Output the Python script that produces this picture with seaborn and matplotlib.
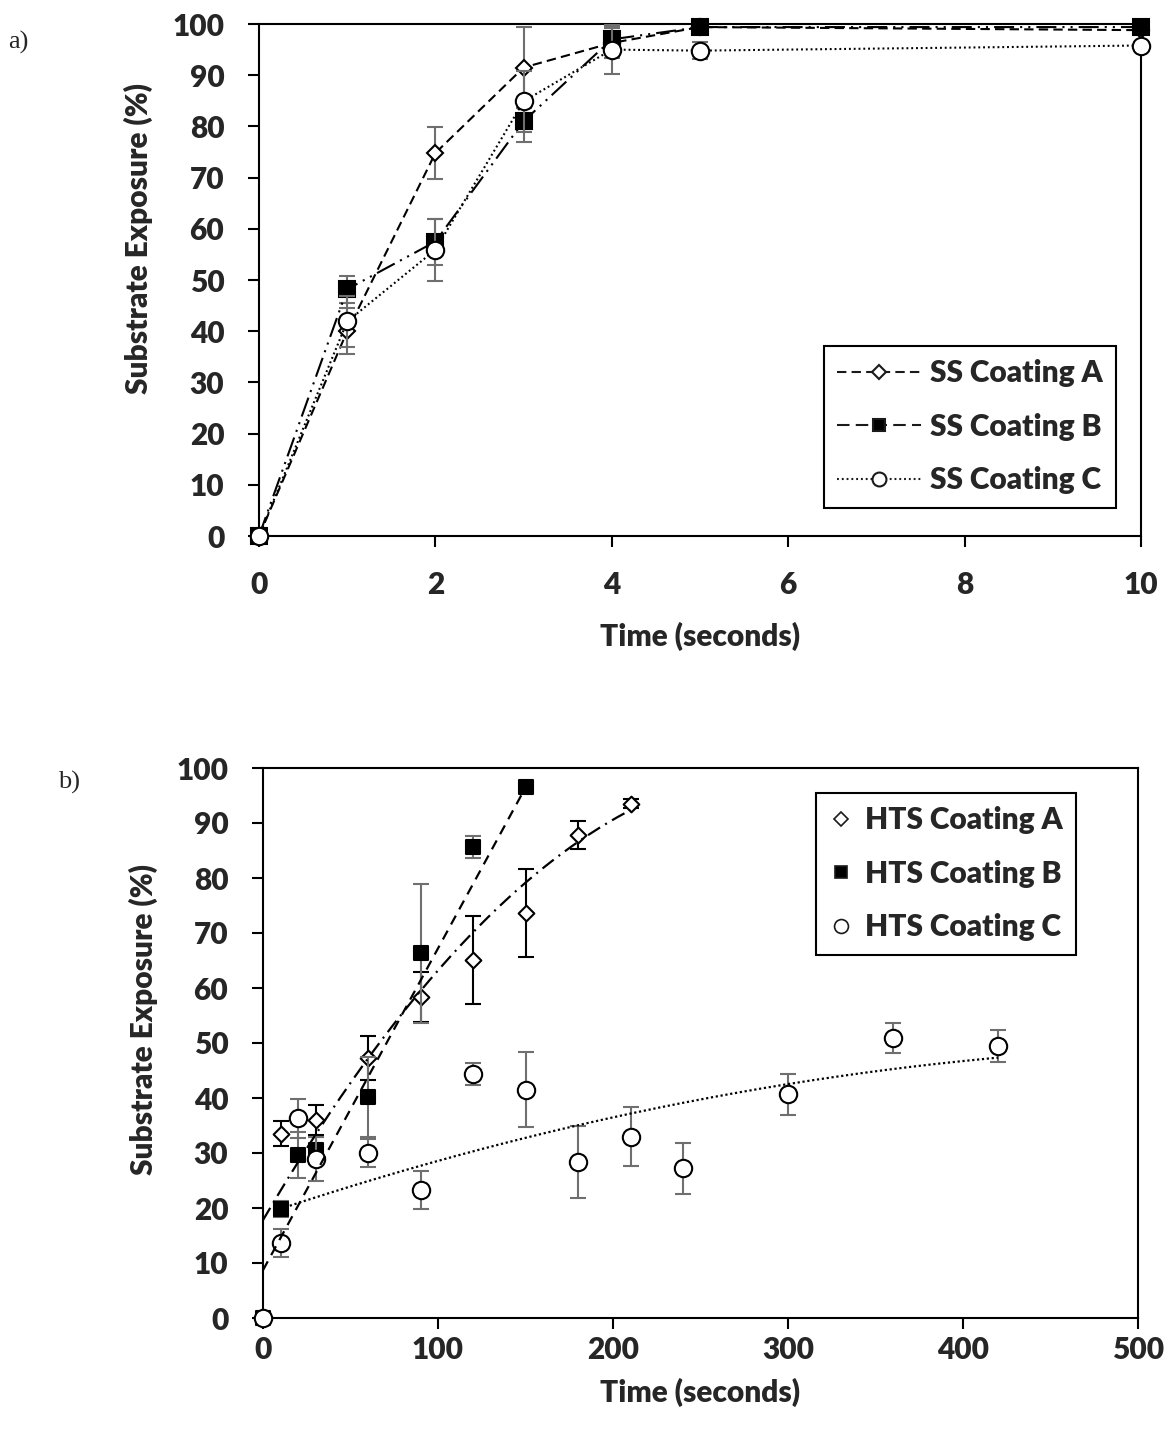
import numpy as np
import pandas as pd
import matplotlib
matplotlib.use("Agg")
import matplotlib.pyplot as plt
import seaborn as sns
from matplotlib.lines import Line2D

# ---------------- Panel a data (SS) ----------------
ss_time = [0, 1, 2, 3, 4, 5, 10]
ss_a = [0, 40.0, 74.8, 91.5, 96.3, 99.4, 98.8]
ss_a_err = [0, 4.5, 5.0, 8.0, 3.0, 1.0, 0.5]
ss_b = [0, 48.2, 57.5, 81.0, 97.0, 99.4, 99.4]
ss_b_err = [0, 2.6, 4.5, 4.0, 2.5, 1.0, 0.5]
ss_c = [0, 41.9, 55.9, 84.9, 95.0, 94.8, 95.8]
ss_c_err = [0, 5.0, 6.0, 6.0, 4.8, 1.7, 0.5]
ss_labels = ["SS Coating A", "SS Coating B", "SS Coating C"]

# ---------------- Panel b data (HTS) ----------------
hts_a_time = [0, 10, 30, 60, 90, 120, 150, 180, 210]
hts_a = [0, 33.5, 36.0, 47.2, 58.4, 65.1, 73.6, 87.8, 93.5]
hts_a_err = [0, 2.3, 2.7, 4.0, 4.5, 8.0, 8.0, 2.6, 0.8]
hts_b_time = [0, 10, 20, 30, 60, 90, 120, 150]
hts_b = [0, 19.8, 29.6, 30.5, 40.2, 66.3, 85.6, 96.6]
hts_b_err = [0, 1.5, 4.2, 2.5, 7.2, 12.6, 2.0, 0.8]
hts_c_time = [0, 10, 20, 30, 60, 90, 120, 150, 180, 210, 240, 300, 360, 420]
hts_c = [0, 13.6, 36.3, 29.0, 30.0, 23.3, 44.3, 41.5, 28.4, 33.0, 27.2, 40.7, 50.9, 49.5]
hts_c_err = [0, 2.5, 3.6, 4.0, 2.5, 3.5, 2.0, 6.8, 6.5, 5.4, 4.7, 3.7, 2.8, 2.9]
hts_labels = ["HTS Coating A", "HTS Coating B", "HTS Coating C"]

# trendline coefficients (polynomial, highest power first) and spans
trend_a_coef = [-0.0009, 0.544, 17.8]
trend_a_span = [0, 210]
trend_b_coef = [0.585, 8.7]
trend_b_span = [0, 150]
trend_c_coef = [-0.000093, 0.107, 18.8]
trend_c_span = [10, 420]

sns.set_theme(style="white")
plt.rcParams['font.family'] = ['Lato', 'DejaVu Sans']
plt.rcParams['font.weight'] = 'heavy'
plt.rcParams['axes.linewidth'] = 1.5

FS = 21.5
WT = 'heavy'
GRAY = '#6f6f6f'

fig = plt.figure(figsize=(11.76, 14.5), dpi=100)
ax1 = fig.add_axes([259 / 1176, 1 - 536 / 1450, (1141 - 259) / 1176, (536 - 24) / 1450])
ax2 = fig.add_axes([263 / 1176, 1 - 1318 / 1450, (1138 - 263) / 1176, (1318 - 768) / 1450])

# ---------------- Panel a ----------------
styles_a = [
    dict(ls=(0, (4.5, 2.5)), marker='D', ms=8.5, mfc='white'),
    dict(ls=(0, (9.6, 2.9, 1, 2.9, 1, 2.9)), marker='s', ms=11.5, mfc='black'),
    dict(ls=(0, (0.9, 1.4)), marker='o', ms=12.5, mfc='white'),
]
series_a = [(ss_a, ss_a_err), (ss_b, ss_b_err), (ss_c, ss_c_err)]
for i, ((vals, errs), st, lab) in enumerate(zip(series_a, styles_a, ss_labels)):
    ax1.errorbar(ss_time, vals, yerr=errs, fmt='none', ecolor=GRAY, elinewidth=1.5,
                 capsize=6, capthick=1.5, zorder=2 + i * 2, clip_on=False)
    sns.lineplot(x=ss_time, y=vals, ax=ax1, color='black', linewidth=1.5,
                 linestyle=st['ls'], marker=st['marker'], markersize=st['ms'],
                 markerfacecolor=st['mfc'], markeredgecolor='black', markeredgewidth=1.5,
                 estimator=None, sort=False, clip_on=False, zorder=3 + i * 2)

ax1.set_xlim(0, 10)
ax1.set_ylim(0, 100)
ax1.set_xticks([0, 2, 4, 6, 8, 10])
ax1.set_yticks(range(0, 101, 10))

handles_a = [
    Line2D([0], [0], color='k', lw=1.5, ls=styles_a[0]['ls'], marker='D', ms=7,
           mfc='white', mec='k', mew=1.5),
    Line2D([0], [0], color='k', lw=1.5, ls=(0, (6, 3)), marker='s', ms=9,
           mfc='black', mec='k', mew=1.5),
    Line2D([0], [0], color='k', lw=1.5, ls=styles_a[2]['ls'], marker='o', ms=10,
           mfc='white', mec='k', mew=1.5),
]
leg1 = ax1.legend(handles_a, ss_labels, loc='upper left',
                  bbox_to_anchor=(824 / 1176, 1 - 346 / 1450), bbox_transform=fig.transFigure,
                  prop={'size': FS, 'weight': WT}, frameon=True, fancybox=False,
                  edgecolor='black', framealpha=1, handlelength=2.8, handletextpad=0.3,
                  labelspacing=0.85, borderpad=0.45, borderaxespad=0)
leg1.get_frame().set_linewidth(1.5)

# ---------------- Panel b ----------------
mk_b = [('D', 8, 'white', hts_a_time, hts_a, hts_a_err, 'black'),
        ('s', 10.5, 'black', hts_b_time, hts_b, hts_b_err, GRAY),
        ('o', 12.5, 'white', hts_c_time, hts_c, hts_c_err, GRAY)]
for i, (m, ms, fc, t, v, e, ec) in enumerate(mk_b):
    ax2.errorbar(t, v, yerr=e, fmt='none', ecolor=ec, elinewidth=1.5, capsize=6,
                 capthick=1.5, zorder=2 + i * 2, clip_on=False)
    sns.scatterplot(x=t, y=v, ax=ax2, marker=m, s=ms ** 2, facecolor=fc,
                    edgecolor='black', linewidth=1.5, zorder=3 + i * 2, clip_on=False)

trend_styles = [(trend_a_coef, trend_a_span, (0, (6.4, 2.7, 0.9, 2.7))),
                (trend_b_coef, trend_b_span, (0, (4.5, 3.2))),
                (trend_c_coef, trend_c_span, (0, (1.0, 1.2)))]
for coef, span, ls in trend_styles:
    tt = np.linspace(span[0], span[1], 200)
    sns.lineplot(x=tt, y=np.polyval(coef, tt), ax=ax2, color='black', linewidth=1.6,
                 linestyle=ls, estimator=None, sort=False, zorder=10)

ax2.set_xlim(0, 500)
ax2.set_ylim(0, 100)
ax2.set_xticks(range(0, 501, 100))
ax2.set_yticks(range(0, 101, 10))

handles_b = [
    Line2D([0], [0], ls='none', marker='D', ms=7, mfc='white', mec='k', mew=1.2),
    Line2D([0], [0], ls='none', marker='s', ms=9, mfc='black', mec='k', mew=1.2),
    Line2D([0], [0], ls='none', marker='o', ms=10, mfc='white', mec='k', mew=1.2),
]
leg2 = ax2.legend(handles_b, hts_labels, loc='upper left',
                  bbox_to_anchor=(816 / 1176, 1 - 793 / 1450), bbox_transform=fig.transFigure,
                  prop={'size': FS, 'weight': WT}, frameon=True, fancybox=False,
                  edgecolor='black', framealpha=1, handlelength=0.8, handletextpad=0.4,
                  labelspacing=0.85, borderpad=0.45, borderaxespad=0)
leg2.get_frame().set_linewidth(1.5)

# ---------------- Common styling ----------------
for ax, ylab_y, xlab_y, xpad in [(ax1, 0.582, -0.197, 17), (ax2, 0.542, -0.135, 5)]:
    for sp in ax.spines.values():
        sp.set_visible(True)
        sp.set_color('black')
        sp.set_linewidth(1.5)
    ax.tick_params(axis='both', which='major', direction='out', length=8, width=1.5,
                   color='black', labelsize=FS, bottom=True, left=True)
    ax.tick_params(axis='x', pad=xpad)
    ax.tick_params(axis='y', pad=17)
    for lbl in ax.get_xticklabels() + ax.get_yticklabels():
        lbl.set_fontweight(WT)
    ax.set_ylabel("Substrate Exposure (%)", fontsize=FS, fontweight=WT)
    ax.set_xlabel("Time (seconds)", fontsize=FS, fontweight=WT)
    ax.yaxis.set_label_coords(-0.137, ylab_y)
    ax.xaxis.set_label_coords(0.5, xlab_y)
    ax.xaxis.label.set_va('center')
    ax.yaxis.label.set_va('center')
    ax.set_facecolor('white')

fig.text(8 / 1176, 1 - 42 / 1450, "a)", family=['Liberation Serif', 'DejaVu Serif'],
         fontsize=19, fontweight='normal', va='center', ha='left')
fig.text(58 / 1176, 1 - 782 / 1450, "b)", family=['Liberation Serif', 'DejaVu Serif'],
         fontsize=19, fontweight='normal', va='center', ha='left')

fig.savefig("out.png", dpi=100, facecolor='white')
